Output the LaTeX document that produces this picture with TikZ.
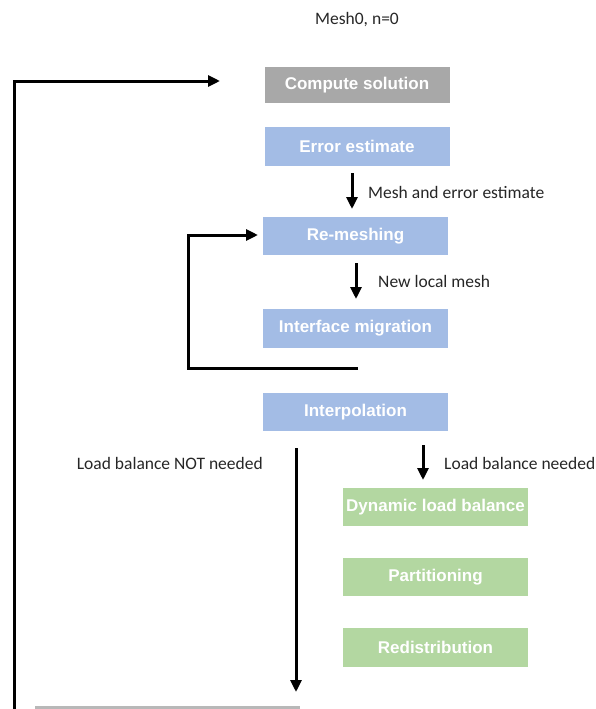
\documentclass[tikz,border=0pt]{standalone}
\usepackage{fontspec}
\setmainfont{Liberation Sans}
\newfontfamily\labelfont{Carlito}
\usetikzlibrary{arrows.meta}
\definecolor{boxgray}{HTML}{A8A8A8}
\definecolor{boxblue}{HTML}{A3BCE5}
\definecolor{boxgreen}{HTML}{B3D7A1}
\definecolor{bargray}{HTML}{B8B8B8}
\begin{document}
\begin{tikzpicture}[x=1pt,y=-1pt,
  box/.style={minimum width=185pt, minimum height=38pt, inner sep=0pt, text=white,
    font=\fontsize{17}{20}\selectfont\bfseries},
  graybox/.style={box, fill=boxgray},
  bluebox/.style={box, fill=boxblue},
  greenbox/.style={box, fill=boxgreen},
  lbl/.style={font=\labelfont\fontsize{17.5}{20}\selectfont, inner sep=0pt, text=black!85},
  conn/.style={line width=3pt, -{Triangle[length=12pt,width=11pt]}},
  plain/.style={line width=3pt}
]
\useasboundingbox (0,0) rectangle (596,709);
\clip (0,0) rectangle (596,709);

% title
\node[lbl] (title) at (357,20) {Mesh0, n=0};

% boxes
\node[graybox, minimum height=36pt] (compute) at (357,85) {Compute solution};
\node[bluebox, minimum height=39pt] (error) at (357,146.5) {Error estimate};
\node[bluebox] (remesh) at (355.5,236) {Re-meshing};
\node[bluebox, minimum height=39pt] (interface) at (355.5,328.5) {Interface migration};
\node[bluebox] (interp) at (355.5,412) {Interpolation};
\node[greenbox] (dyn) at (435.5,507) {Dynamic load balance};
\node[greenbox] (part) at (435.5,577) {Partitioning};
\node[greenbox, minimum height=39pt] (redis) at (435.5,647.5) {Redistribution};
\node[fill=bargray, minimum width=265pt, minimum height=28pt, inner sep=0pt] (next) at (167.5,720) {};

% labels
\node[lbl, anchor=west] (l1) at (368,192) {Mesh and error estimate};
\node[lbl, anchor=west] (l2) at (378,281) {New local mesh};
\node[lbl, anchor=east] (l3) at (263,463) {Load balance NOT needed};
\node[lbl, anchor=west] (l4) at (444,463) {Load balance needed};

% connector end points
\coordinate (a1s) at (352,173);
\coordinate (a1e) at (352,209);
\coordinate (a2s) at (356,263);
\coordinate (a2e) at (356,299);
\coordinate (a3s) at (423,445);
\coordinate (a3e) at (423,480);
\coordinate (a4s) at (296,448);
\coordinate (a4e) at (296,692);
\coordinate (o1) at (14,715);
\coordinate (o2) at (220,81);
\coordinate (i1) at (358,368);
\coordinate (i2) at (188,368);
\coordinate (i3) at (258,235);

% connectors
\draw[conn] (a1s) -- (a1e);
\draw[conn] (a2s) -- (a2e);
\draw[conn] (a3s) -- (a3e);
\draw[conn] (a4s) -- (a4e);
\draw[conn] (o1) |- (o2);
\draw[conn] (i1) -- (i2) |- (i3);
\end{tikzpicture}
\end{document}
